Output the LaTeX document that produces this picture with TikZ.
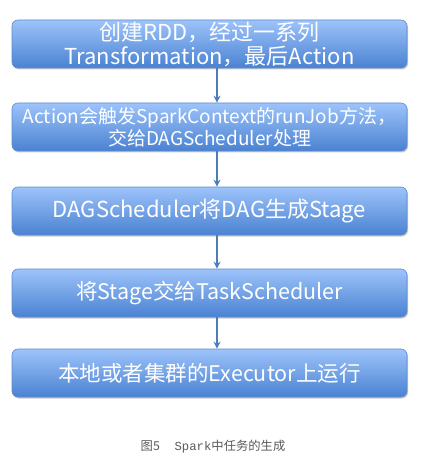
\documentclass[tikz,border=0pt]{standalone}
\usepackage{fontspec}
\setmainfont{Noto Sans CJK SC}
\newfontfamily\capmono{Liberation Mono}
\usetikzlibrary{shadows,arrows.meta}
\definecolor{boxtop}{HTML}{9DC3FA}
\definecolor{boxbot}{HTML}{4A82D2}
\definecolor{boxline}{HTML}{5F8BCB}
\definecolor{arrowc}{HTML}{4A7EBB}
\begin{document}
\begin{tikzpicture}[x=1pt,y=-1pt,
  flowbox/.style={rounded corners=6pt, draw=boxline, line width=0.6pt,
    top color=boxtop, bottom color=boxbot,
    drop shadow={shadow xshift=1pt, shadow yshift=-1.5pt, opacity=0.35, fill=black!60},
    minimum width=395pt, minimum height=48pt, text=white, align=center, inner sep=0pt},
  flowarrow/.style={draw=arrowc, line width=1.4pt, -{Stealth[length=7pt,width=7pt]}}]
\useasboundingbox (0,0) rectangle (420,465);
\node[flowbox, font=\fontsize{22}{24}\selectfont] (b1) at (209.5,44) {创建RDD，经过一系列\\Transformation，最后Action};
\node[flowbox, font=\fontsize{19}{22}\selectfont] (b2) at (209.5,127) {Action会触发SparkContext的runJob方法，\\交给DAGScheduler处理};
\node[flowbox, font=\fontsize{22}{24}\selectfont] (b3) at (209.5,211) {DAGScheduler将DAG生成Stage};
\node[flowbox, font=\fontsize{21.5}{24}\selectfont] (b4) at (209.5,293) {将Stage交给TaskScheduler};
\node[flowbox, font=\fontsize{21.5}{24}\selectfont] (b5) at (209.5,373) {本地或者集群的Executor上运行};
\draw[flowarrow] (b1.south -| 217,0) -- (b2.north -| 217,0);
\draw[flowarrow] (b2.south -| 217,0) -- (b3.north -| 217,0);
\draw[flowarrow] (b3.south -| 217,0) -- (b4.north -| 217,0);
\draw[flowarrow] (b4.south -| 217,0) -- (b5.north -| 217,0);
\node[text=black!65, font=\fontsize{12.3}{14}\selectfont, inner sep=0pt] (cap) at (213,447) {图5\hspace{1.2em}{\capmono Spark}中任务的生成};
\end{tikzpicture}
\end{document}
